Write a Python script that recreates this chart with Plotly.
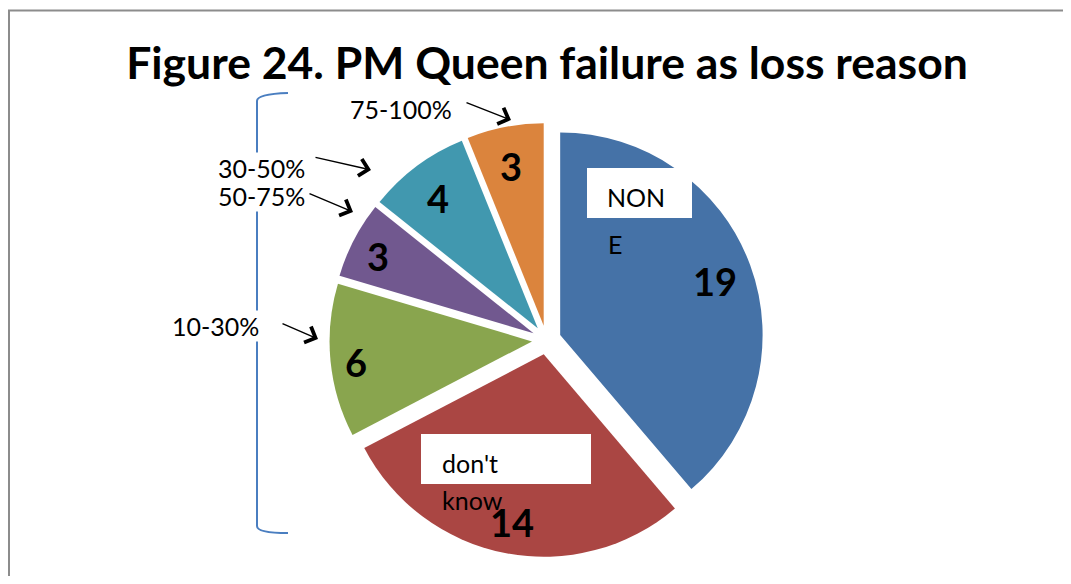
import plotly.graph_objects as go

# browser adds an 8px body margin, so the figure is 16px smaller than the window
OFF = 8
W, H = 1071 - 2 * OFF, 584 - 2 * OFF

# ── Data ──────────────────────────────────────────────────────────────────────
categories = ["NONE", "don't know", "10-30%", "50-75%", "30-50%", "75-100%"]
counts = [19, 14, 6, 3, 4, 3]
colours = ["#4572A7", "#AA4643", "#89A54E", "#71588F", "#4198AF", "#DB843D"]

range_labels = ["75-100%", "30-50%", "50-75%", "10-30%"]

TITLE = "Figure 24. PM Queen failure as loss reason"


def px(x):
    """screen x (reference pixels) -> paper fraction"""
    return (x - OFF) / W


def py(y):
    """screen y (reference pixels, downwards) -> paper fraction"""
    return 1 - (y - OFF) / H


# pie box: centre (546.5, 340), half-size 217
CX, CY, HALF = 546.5, 340, 217

fig = go.Figure(
    go.Pie(
        labels=categories,
        values=counts,
        sort=False,
        direction="clockwise",
        rotation=0,
        pull=[0.072] * len(counts),
        marker=dict(colors=colours, line=dict(width=0)),
        textinfo="none",
        domain=dict(x=[px(CX - HALF), px(CX + HALF)], y=[py(CY + HALF), py(CY - HALF)]),
        showlegend=False,
        hoverinfo="label+value",
    )
)

# ── Frame and left bracket ───────────────────────────────────────────────────
shapes = [
    dict(type="line", xref="paper", yref="paper",
         x0=px(9), x1=px(9), y0=py(10), y1=py(600),
         line=dict(color="#8C8C8C", width=2)),
    dict(type="line", xref="paper", yref="paper",
         x0=px(8), x1=px(1080), y0=py(10.5), y1=py(10.5),
         line=dict(color="#8C8C8C", width=2)),
    dict(type="path", xref="paper", yref="paper",
         path=(f"M {px(288)},{py(93)} Q {px(257)},{py(94)} {px(257)},{py(101)} "
               f"L {px(257)},{py(526)} Q {px(257)},{py(533)} {px(288)},{py(533)}"),
         line=dict(color="#4A7EC0", width=2)),
    # white boxes behind the category labels
    dict(type="rect", xref="paper", yref="paper",
         x0=px(587), x1=px(692), y0=py(218), y1=py(168),
         fillcolor="#FFFFFF", line=dict(width=0)),
    dict(type="rect", xref="paper", yref="paper",
         x0=px(421), x1=px(591), y0=py(484), y1=py(434),
         fillcolor="#FFFFFF", line=dict(width=0)),
]

lab_font = dict(family="Lato", size=25, color="#000000")
num_font = dict(family="Lato", size=38, color="#000000", weight="bold")
annotations = []

# category labels (wrapped as in the source)
for txt, x, y in [("NON", 605, 197), ("E", 606, 244), ("don't", 440, 463), ("know", 440, 500)]:
    annotations.append(dict(text=txt, xref="paper", yref="paper", x=px(x), y=py(y),
                            xanchor="left", yanchor="middle", showarrow=False, font=lab_font))

# slice values
num_pos = [(715, 281), (512, 522), (356, 362), (378, 256), (438, 198), (511, 166)]
for val, (x, y) in zip(counts, num_pos):
    annotations.append(dict(text=str(val), xref="paper", yref="paper", x=px(x), y=py(y),
                            xanchor="center", yanchor="middle", showarrow=False, font=num_font))

# range labels with white background (break the bracket line)
label_pos = {"75-100%": (401, 109), "30-50%": (261, 168), "50-75%": (261, 196), "10-30%": (215, 326)}
for lab in range_labels:
    x, y = label_pos[lab]
    annotations.append(dict(text=lab, xref="paper", yref="paper", x=px(x), y=py(y),
                            xanchor="center", yanchor="middle", showarrow=False,
                            font=lab_font, bgcolor="#FFFFFF", borderpad=0))

# arrows: (tail, head)
arrows = [((465, 102), (511, 120)), ((314, 157), (371, 170)),
          ((308, 193), (353, 212)), ((281, 323), (318, 339))]
for (tx, ty), (hx, hy) in arrows:
    annotations.append(dict(text="", xref="paper", yref="paper", x=px(hx), y=py(hy),
                            ax=tx - hx, ay=ty - hy, showarrow=True, arrowhead=4,
                            arrowsize=2.4, arrowwidth=1.4, arrowcolor="#000000"))

fig.update_layout(
    width=W,
    height=H,
    margin=dict(l=0, r=0, t=0, b=0),
    paper_bgcolor="#FFFFFF",
    plot_bgcolor="#FFFFFF",
    title=dict(text=TITLE, x=px(547), xanchor="center", y=py(63), yanchor="middle",
               yref="container",
               font=dict(family="Lato", size=44.5, color="#000000", weight="bold")),
    shapes=shapes,
    annotations=annotations,
)

fig.write_html("out.html")
